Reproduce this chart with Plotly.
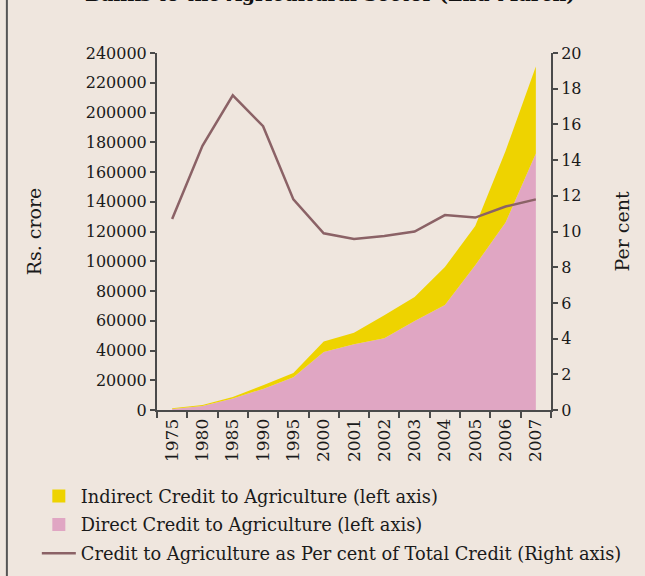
import plotly.graph_objects as go

# data
years = ['1975', '1980', '1985', '1990', '1995', '2000', '2001', '2002',
         '2003', '2004', '2005', '2006', '2007']
direct_credit = [700, 2700, 7800, 14200, 22000, 39000, 44200, 48200,
                 59800, 70600, 97300, 126000, 172400]
indirect_credit = [400, 700, 900, 2400, 2900, 7000, 7800, 15500,
                   16200, 25500, 26400, 48100, 58500]
pct_of_total = [10.7, 14.8, 17.63, 15.9, 11.8, 9.9, 9.58, 9.75,
                10.0, 10.92, 10.78, 11.4, 11.8]

left_ticks = list(range(0, 240001, 20000))
right_ticks = list(range(0, 21, 2))

BG = '#EFE6DE'
YELLOW = '#EED300'
PINK = '#E0A6C3'
LINE = '#8B6266'
AXIS = '#4a4a4a'
FONT = 'DejaVu Serif'

fig = go.Figure()

# stacked areas (no legend, legend built from dummy squares below)
fig.add_trace(go.Scatter(x=years, y=direct_credit, stackgroup='one', mode='none',
                         fillcolor=PINK, showlegend=False, hoverinfo='skip'))
fig.add_trace(go.Scatter(x=years, y=indirect_credit, stackgroup='one', mode='none',
                         fillcolor=YELLOW, showlegend=False, hoverinfo='skip'))
fig.add_trace(go.Scatter(x=years, y=pct_of_total, mode='lines', yaxis='y2',
                         line=dict(color=LINE, width=2.5), showlegend=False))

# legend entries
fig.add_trace(go.Scatter(x=[None], y=[None], mode='markers', legendgroup='a',
                         marker=dict(symbol='square', size=13, color=YELLOW),
                         name='Indirect Credit to Agriculture (left axis)'))
fig.add_trace(go.Scatter(x=[None], y=[None], mode='markers', legendgroup='b',
                         marker=dict(symbol='square', size=13, color=PINK),
                         name='Direct Credit to Agriculture (left axis)'))
fig.add_trace(go.Scatter(x=[None], y=[None], mode='lines', yaxis='y2', legendgroup='c',
                         line=dict(color=LINE, width=2.5),
                         name='Credit to Agriculture as Per cent of Total Credit (Right axis)'))

fig.update_layout(
    width=645, height=576,
    margin=dict(l=157, r=94, t=53, b=166, autoexpand=False),
    paper_bgcolor=BG, plot_bgcolor=BG,
    font=dict(family=FONT, size=16, color='#1a1a1a'),
    xaxis=dict(type='category', categoryorder='array', categoryarray=years,
               range=[-0.5, 12.5], tickson='boundaries', ticks='outside',
               ticklen=6, tickwidth=1.5, tickcolor=AXIS, tickangle=-90,
               tickfont=dict(size=17), automargin=False,
               showline=True, linecolor=AXIS, linewidth=2, showgrid=False,
               zeroline=False),
    yaxis=dict(range=[0, 240000], tickvals=left_ticks, ticks='outside',
               ticklen=5, tickwidth=1.5, tickcolor=AXIS, showline=True,
               linecolor=AXIS, linewidth=2, showgrid=False, zeroline=False,
               tickformat='d', automargin=False,
               title=dict(text='Rs. crore', standoff=39)),
    yaxis2=dict(range=[0, 20], tickvals=right_ticks, overlaying='y', side='right',
                ticks='outside', ticklen=5, tickwidth=1.5, tickcolor=AXIS,
                showline=True, linecolor=AXIS, linewidth=2, showgrid=False,
                zeroline=False, automargin=False,
                title=dict(text='Per cent', standoff=35)),
    legend=dict(x=-0.305, xanchor='left', y=-0.19, yanchor='top',
                bgcolor='rgba(0,0,0,0)', font=dict(size=17.8), itemwidth=34,
                traceorder='grouped', tracegroupgap=2.5),
    showlegend=True,
)

# title, mostly cropped off the top in the reference
fig.add_annotation(text='<b>Banks to the Agricultural Sector (End-March)</b>',
                   xref='paper', yref='paper', x=0.44, y=1.13, xanchor='center',
                   yanchor='bottom', showarrow=False,
                   font=dict(family=FONT, size=19, color='#111111'))

# frame line on the left edge
fig.add_shape(type='line', xref='paper', yref='paper', x0=-0.381, x1=-0.381,
              y0=-0.6, y1=1.3, line=dict(color='#555555', width=2))

fig.write_html('out.html', config={'displayModeBar': False},
               post_script="document.body.style.margin='0';"
                           "document.body.style.overflow='hidden';")
